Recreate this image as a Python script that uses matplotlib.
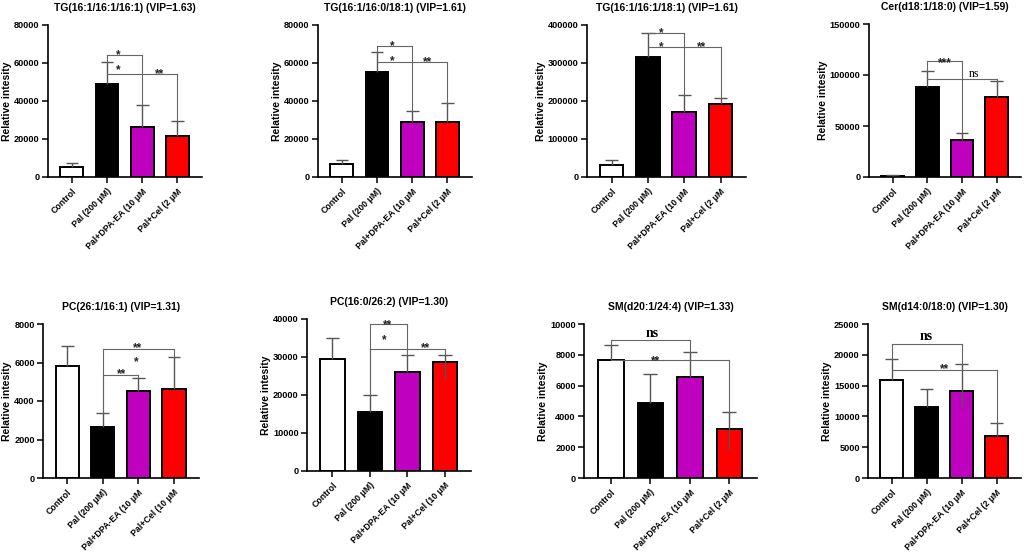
import matplotlib
matplotlib.use("Agg")
import matplotlib.pyplot as plt

plt.rcParams['font.family'] = ['Liberation Sans', 'DejaVu Sans']
plt.rcParams['font.weight'] = 'bold'

# ---- data ----
titles = ["TG(16:1/16:1/16:1) (VIP=1.63)", "TG(16:1/16:0/18:1) (VIP=1.61)",
          "TG(16:1/16:1/18:1) (VIP=1.61)", "Cer(d18:1/18:0) (VIP=1.59)",
          "PC(26:1/16:1) (VIP=1.31)", "PC(16:0/26:2) (VIP=1.30)",
          "SM(d20:1/24:4) (VIP=1.33)", "SM(d14:0/18:0) (VIP=1.30)"]
groups_2 = ["Control", "Pal (200 \u03bcM)", "Pal+DPA-EA (10 \u03bcM", "Pal+Cel (2 \u03bcM"]
groups_10 = ["Control", "Pal (200 \u03bcM)", "Pal+DPA-EA (10 \u03bcM", "Pal+Cel (10 \u03bcM"]
panel_groups = [groups_2, groups_2, groups_2, groups_2, groups_10, groups_10, groups_2, groups_2]

means = [[5500, 49000, 26300, 21700],
         [7000, 55200, 28800, 28800],
         [32500, 316500, 170500, 192500],
         [1300, 88600, 35800, 78400],
         [5810, 2660, 4540, 4630],
         [29400, 15400, 26100, 28700],
         [7670, 4890, 6540, 3200],
         [15980, 11580, 14130, 6850]]
err_up = [[2000, 11600, 11400, 7800],
          [2100, 10400, 5800, 9900],
          [13200, 61500, 45800, 15800],
          [700, 15100, 7500, 15500],
          [1030, 730, 680, 1670],
          [5600, 4500, 4550, 1950],
          [960, 1870, 1610, 1090],
          [3260, 2830, 4300, 2120]]
err_down = [[0, 0, 0, 0],
            [0, 0, 0, 0],
            [0, 0, 0, 0],
            [0, 0, 0, 0],
            [0, 0, 0, 0],
            [0, 0, 0, 4400],
            [0, 0, 0, 1400],
            [0, 0, 2550, 0]]
ymax = [80000, 80000, 400000, 150000, 8000, 40000, 10000, 25000]
ystep = [20000, 20000, 100000, 50000, 2000, 10000, 2000, 5000]

# significance brackets: (from bar, to bar, level)
brackets = [[(1, 2, 64200), (1, 3, 54200)],
            [(1, 2, 68900), (1, 3, 60700)],
            [(1, 2, 379800), (1, 3, 342900)],
            [(1, 2, 113900), (1, 3, 96200)],
            [(1, 2, 5370), (1, 3, 6680)],
            [(1, 2, 38600), (1, 3, 32100)],
            [(0, 2, 8980), (0, 3, 7630)],
            [(0, 2, 21740), (0, 3, 17550)]]
# labels: (text, x in bar units, glyph centre y)
sig_labels = [[("*", 1.33, 66500), ("*", 1.33, 58400), ("**", 2.48, 56300)],
              [("*", 1.43, 71200), ("*", 1.43, 63300), ("**", 2.43, 62400)],
              [("*", 1.37, 388600), ("*", 1.37, 351600), ("**", 2.47, 353400)],
              [("***", 1.5, 116000), ("ns", 2.35, 100500)],
              [("**", 1.54, 5620), ("*", 1.94, 6210), ("**", 1.98, 6970)],
              [("**", 1.47, 39560), ("*", 1.39, 35540), ("**", 2.48, 33430)],
              [("ns", 1.04, 9400), ("**", 1.12, 7850)],
              [("ns", 1.0, 22950), ("**", 1.5, 18370)]]

bar_colors = ["white", "black", "#bf00bf", "#ff0000"]

# axes boxes in pixels: left, top, right, bottom
boxes = [(48, 25, 202, 177), (318, 25, 472, 177), (587, 25, 746, 177), (869, 24, 1021, 177),
         (43, 324, 199, 478), (307, 319, 471, 471), (584, 324, 757, 478), (868, 324, 1021, 478)]

W, H = 1024, 554
fig = plt.figure(figsize=(W / 100, H / 100), dpi=100)

for k in range(8):
    l, t, r, b = boxes[k]
    ax = fig.add_axes([l / W, 1 - b / H, (r - l) / W, (b - t) / H])
    x = list(range(4))
    m = means[k]

    # error bars, cap on top only
    for i in x:
        top = m[i] + err_up[k][i]
        ax.vlines(i, m[i] - err_down[k][i], top, color="#555555", lw=1.0, zorder=3)
        ax.hlines(top, i - 0.18, i + 0.18, color="#555555", lw=1.0, zorder=3)
    ax.bar(x, m, width=0.65, color=bar_colors, edgecolor="black", linewidth=1.4, zorder=2)

    # brackets
    for i, j, lev in brackets[k]:
        for e in (i, j):
            tip = min(lev, m[e] + err_up[k][e])
            ax.plot([e, e], [tip, lev], color="#666666", lw=0.8, zorder=4)
        ax.plot([i, j], [lev, lev], color="#666666", lw=0.8, zorder=4)

    for txt, lx, ly in sig_labels[k]:
        if txt == "ns":
            bold = k >= 6
            fs = 10 if bold else 8.5
            ax.annotate(txt, (lx, ly), xytext=(0, -0.25 * fs), textcoords="offset points",
                        ha="center", va="baseline", fontsize=fs,
                        family=["Liberation Serif", "DejaVu Serif"],
                        fontweight="bold" if bold else "normal", zorder=5)
        else:
            fs = 8.5
            ax.annotate(txt, (lx, ly), xytext=(0, -0.6 * fs), textcoords="offset points",
                        ha="center", va="baseline", fontsize=fs, color="#222222", zorder=5)

    ax.set_xlim(-0.68, 3.7)
    ax.set_ylim(0, ymax[k])
    ax.set_yticks(list(range(0, ymax[k] + 1, ystep[k])))
    ax.set_xticks(x)
    ax.set_xticklabels(panel_groups[k], rotation=45, ha="right", rotation_mode="anchor",
                       fontsize=6.3, fontweight="bold")
    ax.tick_params(axis="y", labelsize=6.6, width=1.1, length=4, pad=2)
    ax.tick_params(axis="x", width=1.1, length=4, pad=3)
    for s in ("top", "right"):
        ax.spines[s].set_visible(False)
    for s in ("left", "bottom"):
        ax.spines[s].set_linewidth(1.2)
    ax.set_ylabel("Relative intesity", fontsize=7.5, fontweight="bold", labelpad=1.5)
    ax.set_title(titles[k], fontsize=7.5, fontweight="bold", pad=10)

fig.savefig("out.png", dpi=100, facecolor="white")
